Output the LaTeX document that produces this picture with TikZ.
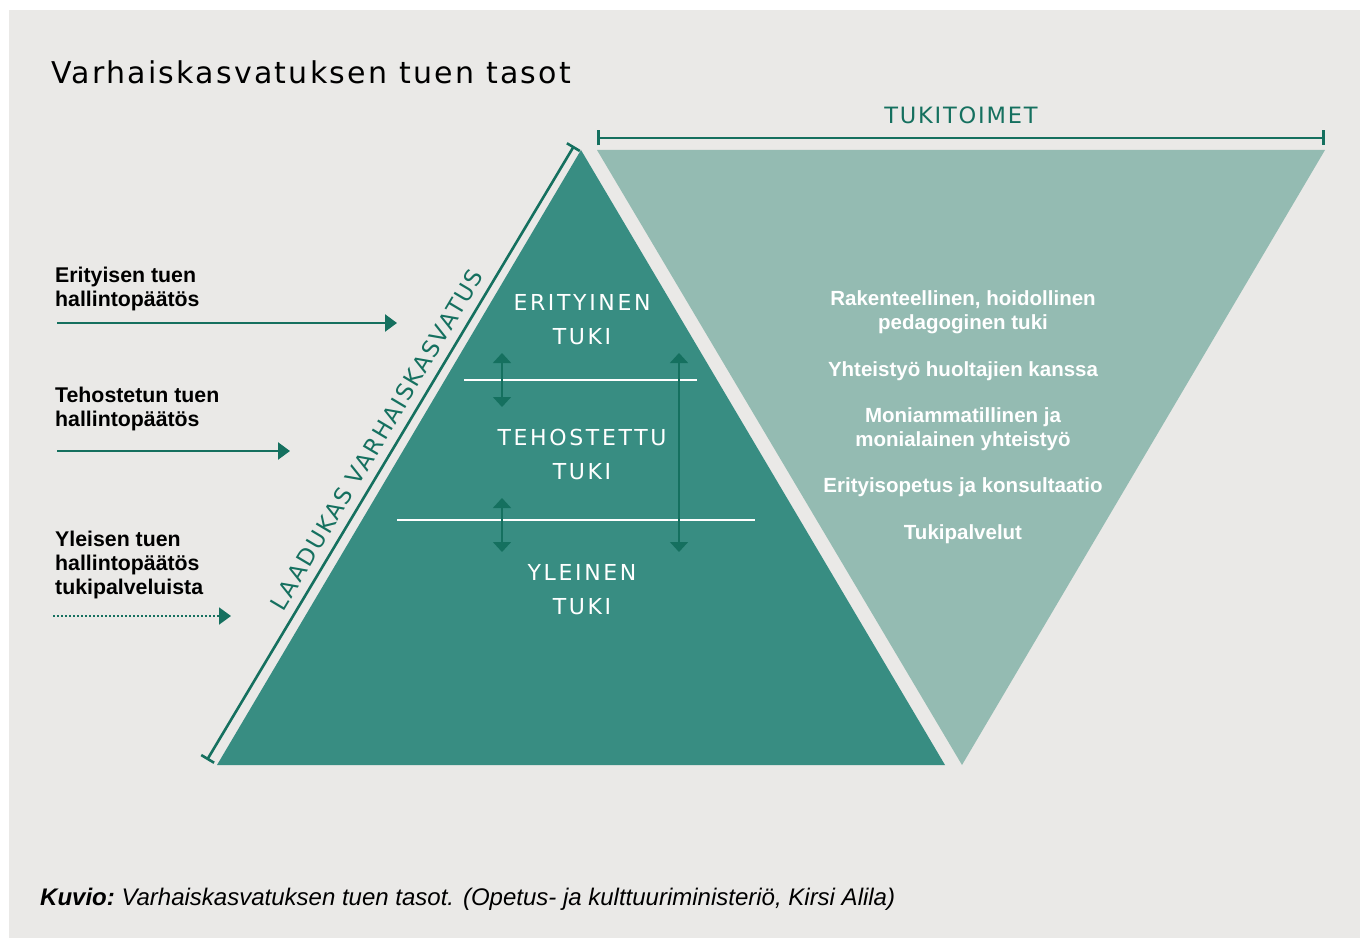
\documentclass[tikz,border=0pt]{standalone}
\usepackage{fontspec}
\setmainfont{Liberation Sans}
\newfontfamily\titlefont[LetterSpace=7.5]{DejaVu Sans}
\newfontfamily\capsfont[LetterSpace=12]{DejaVu Sans}
\newfontfamily\tukifont[LetterSpace=8]{DejaVu Sans}
\usetikzlibrary{arrows.meta}
\definecolor{bg}{HTML}{EAE9E7}
\definecolor{darkteal}{HTML}{388D82}
\definecolor{lightteal}{HTML}{94BBB2}
\definecolor{linegreen}{HTML}{15705F}
\tikzset{
  lbl/.style={anchor=base west,inner sep=0pt,font=\fontsize{21.3}{24}\selectfont\bfseries,text=black},
  rtxt/.style={anchor=base,inner sep=0pt,font=\fontsize{20.5}{24}\selectfont\bfseries,text=white},
  ptxt/.style={anchor=base,inner sep=0pt,font=\fontsize{22}{24}\selectfont\capsfont,text=white},
  leftarrow/.style={line width=2.5pt,draw=linegreen,-{Triangle[length=12pt,width=17pt]}},
  dotarrow/.style={line width=2pt,draw=linegreen,dash pattern=on 1.5pt off 2.5pt,-{Triangle[length=12pt,width=17pt,fill=linegreen]}},
  vbi/.style={line width=1.6pt,draw=linegreen,{Triangle[length=10pt,width=18pt]}-{Triangle[length=10pt,width=18pt]}},
  bracket/.style={line width=2.6pt,draw=linegreen,{Bar[width=15pt,line width=2.6pt]}-{Bar[width=15pt,line width=2.6pt]}},
  whiteline/.style={line width=1.8pt,draw=white}
}
\begin{document}
\begin{tikzpicture}[x=1pt,y=-1pt]
\useasboundingbox (0,0) rectangle (1360,939);
\fill[white] (0,0) rectangle (1360,939);
\fill[bg] (9,10) rectangle (1360,938);

% title
\node[anchor=base west,inner sep=0pt,font=\fontsize{30}{34}\selectfont\titlefont] (title) at (51,84) {Varhaiskasvatuksen tuen tasot};

% shapes
\coordinate (pa) at (581,150);
\coordinate (pl) at (217,765);
\coordinate (pr) at (945,765);
\fill[darkteal] (pa) -- (pl) -- (pr) -- cycle;
\coordinate (ita) at (597,150);
\coordinate (itb) at (1325,150);
\coordinate (itc) at (962,765);
\fill[lightteal] (ita) -- (itb) -- (itc) -- cycle;

% TUKITOIMET bracket
\coordinate (tb1) at (597,138);
\coordinate (tb2) at (1325,138);
\draw[bracket] (tb1) -- (tb2);
\node[anchor=base,inner sep=0pt,font=\fontsize{22.5}{24}\selectfont\tukifont,text=linegreen] (tuki) at (961,124) {TUKITOIMET};

% left bracket
\coordinate (lb1) at (207,760);
\coordinate (lb2) at (574,146);
\draw[bracket] (lb1) -- (lb2);
\node[anchor=base,inner sep=0pt,rotate=59.2,font=\fontsize{23}{24}\selectfont\tukifont,text=linegreen] (laad) at (384,444) {LAADUKAS VARHAISKASVATUS};

% white separators
\coordinate (w1a) at (464,380); \coordinate (w1b) at (697,380);
\coordinate (w2a) at (397,520); \coordinate (w2b) at (755,520);
\draw[whiteline] (w1a) -- (w1b);
\draw[whiteline] (w2a) -- (w2b);

% vertical arrows
\coordinate (v1a) at (502,353); \coordinate (v1b) at (502,407);
\coordinate (v2a) at (502,498); \coordinate (v2b) at (502,552);
\coordinate (v3a) at (679,353); \coordinate (v3b) at (679,552);
\draw[vbi] (v1a) -- (v1b);
\draw[vbi] (v2a) -- (v2b);
\draw[vbi] (v3a) -- (v3b);

% pyramid text
\node[ptxt] (p1) at (582,310) {ERITYINEN};
\node[ptxt] (p2) at (582,344) {TUKI};
\node[ptxt] (p3) at (582,445) {TEHOSTETTU};
\node[ptxt] (p4) at (582,479) {TUKI};
\node[ptxt] (p5) at (582,580) {YLEINEN};
\node[ptxt] (p6) at (582,614) {TUKI};

% right text
\node[rtxt] (r1) at (963,305) {Rakenteellinen, hoidollinen};
\node[rtxt] (r2) at (963,329) {pedagoginen tuki};
\node[rtxt] (r3) at (963,376) {Yhteistyö huoltajien kanssa};
\node[rtxt] (r4) at (963,422) {Moniammatillinen ja};
\node[rtxt] (r5) at (963,446) {monialainen yhteistyö};
\node[rtxt] (r6) at (963,492) {Erityisopetus ja konsultaatio};
\node[rtxt] (r7) at (963,539) {Tukipalvelut};

% left labels
\node[lbl] (l1a) at (55,282) {Erityisen tuen};
\node[lbl] (l1b) at (55,306) {hallintopäätös};
\node[lbl] (l2a) at (55,402) {Tehostetun tuen};
\node[lbl] (l2b) at (55,426) {hallintopäätös};
\node[lbl] (l3a) at (55,546) {Yleisen tuen};
\node[lbl] (l3b) at (55,570) {hallintopäätös};
\node[lbl] (l3c) at (55,594) {tukipalveluista};

\coordinate (a1s) at (57,323); \coordinate (a1e) at (397,323);
\coordinate (a2s) at (57,451); \coordinate (a2e) at (290,451);
\coordinate (a3s) at (53,616); \coordinate (a3e) at (231,616);
\draw[leftarrow] (a1s) -- (a1e);
\draw[leftarrow] (a2s) -- (a2e);
\draw[dotarrow] (a3s) -- (a3e);

% caption
\node[anchor=base west,inner sep=0pt,font=\fontsize{24}{26}\selectfont\itshape] (cap) at (40,905) {\textbf{Kuvio:}~Varhaiskasvatuksen tuen tasot. (Opetus- ja kulttuuriministeriö, Kirsi Alila)};
\end{tikzpicture}
\end{document}
